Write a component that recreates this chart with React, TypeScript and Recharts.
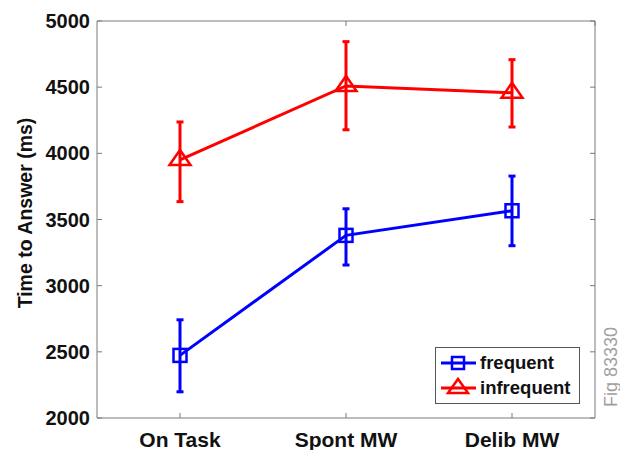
import {
  LineChart,
  Line,
  XAxis,
  YAxis,
  ErrorBar,
  Legend,
} from 'recharts'

const categories = ['On Task', 'Spont MW', 'Delib MW']
const frequent = [2473, 3380, 3566]
const frequentLow = [2198, 3156, 3302]
const frequentHigh = [2742, 3581, 3828]
const infrequent = [3950, 4509, 4458]
const infrequentLow = [3635, 4178, 4199]
const infrequentHigh = [4237, 4844, 4708]
const yTicks = [2000, 2500, 3000, 3500, 4000, 4500, 5000]

const data = categories.map((name, i) => ({
  name,
  idx: i + 1,
  frequent: frequent[i],
  frequentErr: [frequent[i] - frequentLow[i], frequentHigh[i] - frequent[i]],
  infrequent: infrequent[i],
  infrequentErr: [infrequent[i] - infrequentLow[i], infrequentHigh[i] - infrequent[i]],
}))

const BLUE = '#0000FF'
const RED = '#FF0000'
const AXIS = '#7a7a7a'
const FONT = '"Liberation Sans", Arial, sans-serif'

function SquareDot(props: any) {
  const { cx, cy } = props
  if (cx == null || cy == null) return null
  return <rect x={cx - 6.5} y={cy - 6.5} width={13} height={13} fill="none" stroke={BLUE} strokeWidth={2.5} />
}

function TriangleDot(props: any) {
  const { cx, cy } = props
  if (cx == null || cy == null) return null
  return (
    <polygon
      points={`${cx},${cy - 10} ${cx - 10.5},${cy + 5} ${cx + 10.5},${cy + 5}`}
      fill="none"
      stroke={RED}
      strokeWidth={2.5}
    />
  )
}

function XTick(props: any) {
  const { x, y, payload } = props
  return (
    <g>
      <line x1={x} x2={x} y1={y} y2={y - 5} stroke={AXIS} />
      <text x={x} y={y + 29} textAnchor="middle" fontFamily={FONT} fontWeight="bold" fontSize={21} fill="#111">
        {categories[payload.value - 1]}
      </text>
    </g>
  )
}

function YTick(props: any) {
  const { x, y, payload } = props
  return (
    <g>
      <line x1={x} x2={x + 5} y1={y} y2={y} stroke={AXIS} />
      <text x={x - 7} y={y} dy={7} textAnchor="end" fontFamily={FONT} fontWeight="bold" fontSize={20} fill="#111">
        {payload.value}
      </text>
    </g>
  )
}

function LegendBox() {
  const rows = [
    { label: 'frequent', color: BLUE, square: true },
    { label: 'infrequent', color: RED, square: false },
  ]
  return (
    <div
      style={{
        border: '1px solid #555',
        background: '#fff',
        width: 143,
        height: 53,
        boxSizing: 'content-box',
        fontFamily: FONT,
        paddingTop: 2,
      }}
    >
      {rows.map((r) => (
        <div key={r.label} style={{ display: 'flex', alignItems: 'center', height: 25 }}>
          <svg width={44} height={24} style={{ flex: 'none' }}>
            <line x1={5} x2={40} y1={12} y2={12} stroke={r.color} strokeWidth={3} />
            {r.square ? (
              <rect x={16} y={6} width={12} height={12} fill="none" stroke={r.color} strokeWidth={2.5} />
            ) : (
              <polygon points="22,3 12,17 32,17" fill="none" stroke={r.color} strokeWidth={2.5} />
            )}
          </svg>
          <span style={{ fontWeight: 'bold', fontSize: 18.5, color: '#111' }}>{r.label}</span>
        </div>
      ))}
    </div>
  )
}

export default function App() {
  return (
    <div style={{ position: 'absolute', left: 0, top: 0, background: '#fff' }}>
      <LineChart width={620} height={450} data={data} margin={{ top: 21, right: 25, left: 0, bottom: 0 }}>
        <XAxis
          dataKey="idx"
          type="number"
          domain={[0.5, 3.5]}
          ticks={[1, 2, 3]}
          height={32}
          tickSize={0}
          tickMargin={0}
          tickLine={false}
          tick={<XTick />}
          axisLine={{ stroke: AXIS }}
          allowDataOverflow
        />
        <XAxis
          xAxisId="top"
          orientation="top"
          type="number"
          domain={[0.5, 3.5]}
          ticks={[1, 2, 3]}
          mirror
          tickSize={5}
          tickFormatter={() => ''}
          tickLine={{ stroke: AXIS }}
          axisLine={{ stroke: AXIS }}
          allowDataOverflow
        />
        <YAxis
          type="number"
          domain={[2000, 5000]}
          ticks={yTicks}
          width={97}
          tickSize={0}
          tickMargin={0}
          tickLine={false}
          tick={<YTick />}
          axisLine={{ stroke: AXIS }}
          allowDataOverflow
          label={{
            content: () => (
              <text
                x={25}
                y={213}
                transform="rotate(-90 25 213)"
                textAnchor="middle"
                dominantBaseline="central"
                fontFamily={FONT}
                fontWeight="bold"
                fontSize={19.5}
                fill="#111"
              >
                Time to Answer (ms)
              </text>
            ),
          }}
        />
        <YAxis
          yAxisId="right"
          orientation="right"
          type="number"
          domain={[2000, 5000]}
          ticks={yTicks}
          mirror
          tickSize={5}
          tickFormatter={() => ''}
          tickLine={{ stroke: AXIS }}
          axisLine={{ stroke: AXIS }}
          allowDataOverflow
          label={{
            content: () => (
              <text
                x={611}
                y={367}
                transform="rotate(-90 611 367)"
                textAnchor="middle"
                dominantBaseline="central"
                fontFamily={FONT}
                fontSize={18}
                fill="#a0a0a0"
              >
                Fig 83330
              </text>
            ),
          }}
        />
        <Legend
          layout="vertical"
          align="center"
          verticalAlign="middle"
          content={() => <LegendBox />}
          wrapperStyle={{ left: 435, top: 347, width: 145, height: 56 }}
        />
        <Line
          dataKey="frequent"
          name="frequent"
          type="linear"
          stroke={BLUE}
          strokeWidth={3}
          dot={<SquareDot />}
          activeDot={false}
          isAnimationActive={false}
        >
          <ErrorBar dataKey="frequentErr" direction="y" width={3.5} stroke={BLUE} strokeWidth={3} />
        </Line>
        <Line
          dataKey="infrequent"
          name="infrequent"
          type="linear"
          stroke={RED}
          strokeWidth={3}
          dot={<TriangleDot />}
          activeDot={false}
          isAnimationActive={false}
        >
          <ErrorBar dataKey="infrequentErr" direction="y" width={3.5} stroke={RED} strokeWidth={3} />
        </Line>
      </LineChart>
    </div>
  )
}
